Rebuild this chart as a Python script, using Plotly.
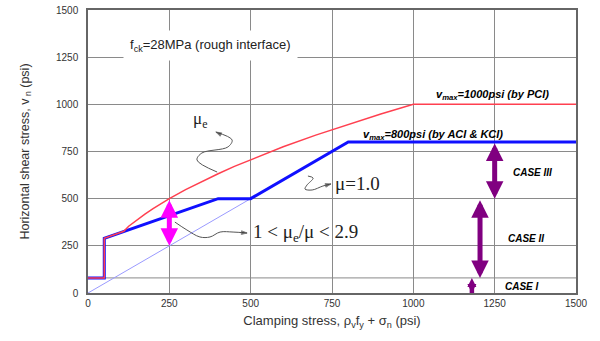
import plotly.graph_objects as go

# ---- data ----
blue_x = [0, 50, 50, 400, 500, 800, 1500]
blue_y = [80, 80, 290, 500, 500, 800, 800]

red_x = [0, 50, 50, 110, 125, 150, 175, 200, 250, 300, 350, 400, 450, 500, 600, 700, 800, 900, 1000, 1500]
red_y = [80, 80, 290, 327, 354, 388, 418, 447, 500, 548, 592, 632, 671, 707, 775, 837, 894, 949, 1000, 1000]

mu1_x = [0, 800]
mu1_y = [0, 800]

case_line_y = 80  # CASE I boundary

ratio_arrow = dict(x=250, y0=500, y1=250)
case_arrows = [
    dict(x=1250, y0=800, y1=500),
    dict(x=1205, y0=500, y1=80),
]
case1_x = [1180, 1180]
case1_y = [0, 80]
case_labels = [("CASE III", 1365, 640), ("CASE II", 1345, 290), ("CASE I", 1335, 35)]

# squiggle leader lines (data coordinates)
sq_mue_x = [397, 335, 350, 430, 443, 393]
sq_mue_y = [641, 705, 742, 774, 811, 853]
sq_mu1_x = [676, 692, 673, 667, 689, 722, 747]
sq_mu1_y = [620, 609, 572, 551, 546, 567, 578]
sq_ratio_x = [267, 304, 344, 375, 406, 446, 489]
sq_ratio_y = [376, 334, 297, 297, 323, 323, 318]

ticks = [0, 250, 500, 750, 1000, 1250, 1500]

fig = go.Figure()

fig.add_trace(go.Scatter(x=mu1_x, y=mu1_y, mode="lines",
                         line=dict(color="#9a9aff", width=1), hoverinfo="skip"))
fig.add_trace(go.Scatter(x=blue_x, y=blue_y, mode="lines",
                         line=dict(color="#1010ff", width=3), hoverinfo="skip"))
fig.add_trace(go.Scatter(x=red_x, y=red_y, mode="lines",
                         line=dict(color="#ff4050", width=1.5), hoverinfo="skip"))

for sx, sy in [(sq_mue_x, sq_mue_y), (sq_mu1_x, sq_mu1_y), (sq_ratio_x, sq_ratio_y)]:
    n = len(sx)
    fig.add_trace(go.Scatter(
        x=sx, y=sy, mode="lines+markers", line_shape="spline",
        line=dict(color="#555555", width=1),
        marker=dict(symbol="arrow", angleref="previous", size=[0] * (n - 1) + [6],
                    color="#333333"),
        hoverinfo="skip"))

# CASE I small double arrow
fig.add_trace(go.Scatter(x=case1_x, y=case1_y, mode="lines+markers",
                         line=dict(color="#800080", width=4.5),
                         marker=dict(symbol=["arrow-down", "arrow-up"], size=9, color="#800080"),
                         cliponaxis=False, hoverinfo="skip"))

fig.add_hline(y=case_line_y, line=dict(color="#8a8a8a", width=1), layer="below")

annotations = []
def dbl(a, color, w, s):
    annotations.append(dict(x=a["x"], y=a["y1"], ax=a["x"], ay=a["y0"],
                            xref="x", yref="y", axref="x", ayref="y", text="",
                            showarrow=True, arrowhead=2, arrowside="end+start",
                            arrowsize=s, arrowwidth=w, arrowcolor=color,
                            standoff=0, startstandoff=0))
dbl(ratio_arrow, "#ff00ff", 5, 0.7)
for a in case_arrows:
    dbl(a, "#800080", 5, 0.7)

for t, x, y in case_labels:
    annotations.append(dict(x=x, y=y, xref="x", yref="y", text=f"<b><i>{t}</i></b>",
                            showarrow=False, font=dict(family="Arial", size=10, color="black")))

annotations += [
    dict(x=1242, y=1050, xref="x", yref="y", text="<b><i>v<sub>max</sub>=1000psi (by PCI)</i></b>",
         showarrow=False, font=dict(family="Arial", size=11, color="black")),
    dict(x=1061, y=840, xref="x", yref="y", text="<b><i>v<sub>max</sub>=800psi (by ACI &amp; KCI)</i></b>",
         showarrow=False, font=dict(family="Arial", size=11, color="black")),
    dict(x=376, y=1314, xref="x", yref="y", text="f<sub>ck</sub>=28MPa (rough interface)",
         showarrow=False, bgcolor="white", borderpad=6,
         font=dict(family="Arial", size=13, color="#222")),
    dict(x=345, y=915, xref="x", yref="y", text="μ<sub>e</sub>", showarrow=False,
         font=dict(family="Liberation Serif", size=17, color="#222")),
    dict(x=752, y=578, xref="x", yref="y", text="μ=1.0", showarrow=False, xanchor="left",
         font=dict(family="Liberation Serif", size=19, color="#222")),
    dict(x=500, y=318, xref="x", yref="y", text="1 &lt; μ<sub>e</sub>/μ &lt; 2.9", showarrow=False,
         xanchor="left", font=dict(family="Liberation Serif", size=19, color="#222")),
]

fig.update_layout(
    width=600, height=341, autosize=False,
    margin=dict(l=88, r=24, t=10, b=48, autoexpand=False),
    paper_bgcolor="white", plot_bgcolor="white",
    showlegend=False,
    annotations=annotations,
    font=dict(family="Arial", color="#333"),
)
axis_common = dict(range=[0, 1500], tickvals=ticks, showgrid=True, gridcolor="#8a8a8a",
                   gridwidth=1, zeroline=False, showline=True, linecolor="#666",
                   linewidth=1.5, mirror=True, ticks="", automargin=False,
                   tickfont=dict(size=10, color="#333"))
fig.update_xaxes(**axis_common, title=dict(
    text="Clamping stress, ρ<sub>v</sub>f<sub>y</sub> + σ<sub>n</sub> (psi)",
    font=dict(size=13, color="#333"), standoff=8))
fig.update_yaxes(**axis_common, ticklabelstandoff=6, title=dict(
    text="Horizontal shear stress, v<sub> n</sub> (psi)",
    font=dict(size=12.5, color="#333"), standoff=24))

fig.write_html("out.html")
